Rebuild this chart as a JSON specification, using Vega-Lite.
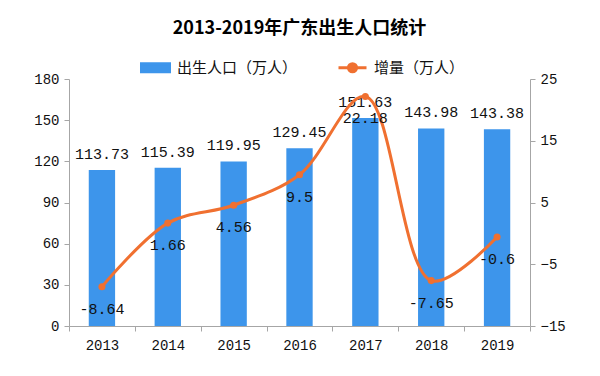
{
  "$schema": "https://vega.github.io/schema/vega-lite/v6.json",
  "width": 461,
  "height": 247,
  "autosize": {"type": "none"},
  "padding": {"left": 69, "top": 79, "right": 70, "bottom": 50},
  "background": "white",
  "title": {"text": "2013-2019年广东出生人口统计", "font": "Noto Sans CJK SC", "fontSize": 18, "fontWeight": "bold", "color": "#000", "offset": 14, "anchor": "middle"},
  "data": {"values": [
    {"year": "2013", "births": 113.73, "delta": -8.64},
    {"year": "2014", "births": 115.39, "delta": 1.66},
    {"year": "2015", "births": 119.95, "delta": 4.56},
    {"year": "2016", "births": 129.45, "delta": 9.5},
    {"year": "2017", "births": 151.63, "delta": 22.18},
    {"year": "2018", "births": 143.98, "delta": -7.65},
    {"year": "2019", "births": 143.38, "delta": -0.6}
  ]},
  "encoding": {
    "x": {"field": "year", "type": "ordinal", "scale": {"paddingInner": 0, "paddingOuter": 0},
      "axis": {"title": null, "tickBand": "extent", "labelAngle": 0, "domainColor": "#a6a6a6", "tickColor": "#a6a6a6", "tickSize": 5, "labelFont": "Liberation Mono", "labelFontSize": 14, "labelColor": "#111", "labelPadding": 7}}
  },
  "layer": [
    {
      "encoding": {
        "y": {"field": "births", "type": "quantitative", "scale": {"domain": [0, 180], "nice": false},
          "axis": {"title": null, "orient": "left", "values": [0, 30, 60, 90, 120, 150, 180], "grid": false, "domainColor": "#a6a6a6", "tickColor": "#a6a6a6", "tickSize": 5, "labelFont": "Liberation Mono", "labelFontSize": 14, "labelColor": "#111", "labelPadding": 5}}
      },
      "layer": [
        {
          "mark": {"type": "bar", "width": {"band": 0.4}},
          "encoding": {
            "color": {"datum": "出生人口（万人）", "type": "nominal",
              "scale": {"domain": ["出生人口（万人）", "增量（万人）"], "range": ["#3d95eb", "#f07030"]},
              "legend": {"orient": "none", "legendX": 71, "legendY": -27, "direction": "horizontal", "title": null, "padding": 0, "symbolSize": 784, "labelFont": "Noto Sans CJK SC", "labelFontSize": 15, "labelColor": "#111", "labelOffset": 6, "columnPadding": 34, "labelLimit": 300,
                "encode": {"symbols": {"update": {
                  "shape": {"signal": "datum.value === '出生人口（万人）' ? 'M-1,-0.29H1V0.29H-1Z' : 'M-1,0H1M0.29,0A0.29,0.29 0 1,1 -0.29,0A0.29,0.29 0 1,1 0.29,0Z'"},
                  "fill": {"signal": "datum.value === '出生人口（万人）' ? '#3d95eb' : '#f07030'"},
                  "stroke": {"signal": "datum.value === '出生人口（万人）' ? 'transparent' : '#f07030'"},
                  "strokeWidth": {"value": 3},
                  "opacity": {"value": 1},
                  "fillOpacity": {"value": 1},
                  "strokeOpacity": {"value": 1}
                }}}
              }}
          }
        },
        {
          "mark": {"type": "text", "dy": -16, "font": "Liberation Mono", "fontSize": 15, "color": "#111"},
          "encoding": {"text": {"field": "births", "type": "nominal"}}
        }
      ]
    },
    {
      "encoding": {
        "y": {"field": "delta", "type": "quantitative", "scale": {"domain": [-15, 25], "nice": false},
          "axis": {"title": null, "orient": "right", "values": [-15, -5, 5, 15, 25], "grid": false, "domainColor": "#a6a6a6", "tickColor": "#a6a6a6", "tickSize": 5, "labelFont": "Liberation Mono", "labelFontSize": 14, "labelColor": "#111", "labelPadding": 5}}
      },
      "layer": [
        {
          "mark": {"type": "line", "interpolate": "catmull-rom", "strokeWidth": 3},
          "encoding": {"color": {"datum": "增量（万人）", "type": "nominal"}}
        },
        {
          "mark": {"type": "point", "filled": true, "size": 50, "color": "#f07030", "opacity": 1}
        },
        {
          "mark": {"type": "text", "dy": 22, "font": "Liberation Mono", "fontSize": 15, "color": "#111"},
          "encoding": {"text": {"field": "delta", "type": "nominal"}}
        }
      ]
    }
  ],
  "resolve": {"scale": {"y": "independent"}},
  "config": {"view": {"stroke": null}}
}
